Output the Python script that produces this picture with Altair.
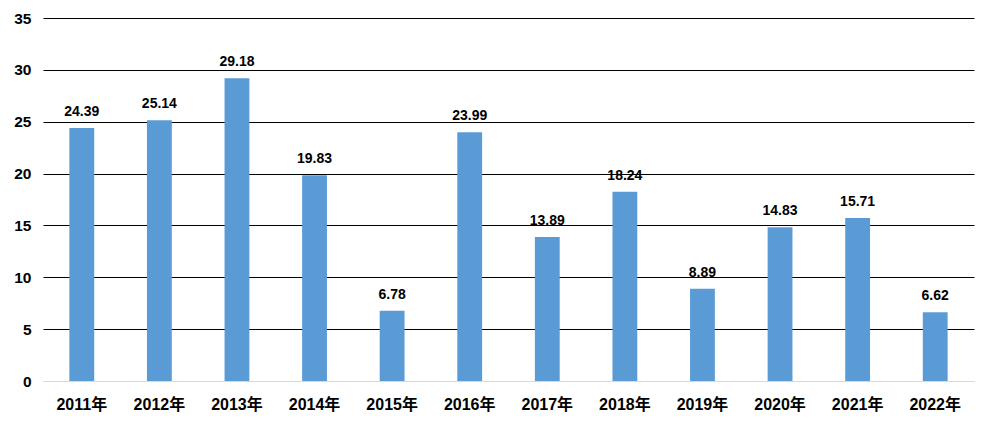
import altair as alt
import pandas as pd

years = ["2011年", "2012年", "2013年", "2014年", "2015年", "2016年",
         "2017年", "2018年", "2019年", "2020年", "2021年", "2022年"]
values = [24.39, 25.14, 29.18, 19.83, 6.78, 23.99, 13.89, 18.24, 8.89, 14.83, 15.71, 6.62]

df = pd.DataFrame({"year": years, "value": values})
FONT = "Liberation Sans, Arial, Noto Sans CJK SC"

base = alt.Chart(df).encode(
    x=alt.X("year:N", sort=years, title=None,
            scale=alt.Scale(paddingInner=0.68, paddingOuter=0.34),
            axis=alt.Axis(labelAngle=0, ticks=False, domain=True, domainColor="#d9d9d9",
                          labelFont=FONT, labelFontSize=16, labelFontWeight="bold",
                          labelColor="black", labelPadding=15)),
    y=alt.Y("value:Q", title=None,
            scale=alt.Scale(domain=[0, 35], nice=False),
            axis=alt.Axis(values=[0, 5, 10, 15, 20, 25, 30, 35], ticks=False, domain=False,
                          grid=True,
                          gridColor={"condition": {"test": "datum.value === 0", "value": "#d9d9d9"}, "value": "black"},
                          gridWidth=1,
                          labelFont=FONT, labelFontSize=15.5, labelFontWeight="bold",
                          labelColor="black", labelPadding=12)),
)

bars = base.mark_bar(color="#5B9BD5")
labels = base.mark_text(baseline="alphabetic", dy=-12, font=FONT, fontSize=14,
                        fontWeight="bold", color="black").encode(text=alt.Text("value:Q", format=".2f"))

chart = (bars + labels).properties(
    width=931, height=363,
    background="white",
    autosize=alt.AutoSizeParams(type="none"),
    padding={"left": 43, "top": 18, "right": 19, "bottom": 45},
).configure_view(stroke=None)

chart.save("out.html", embed_options={"renderer": "svg", "actions": False})
